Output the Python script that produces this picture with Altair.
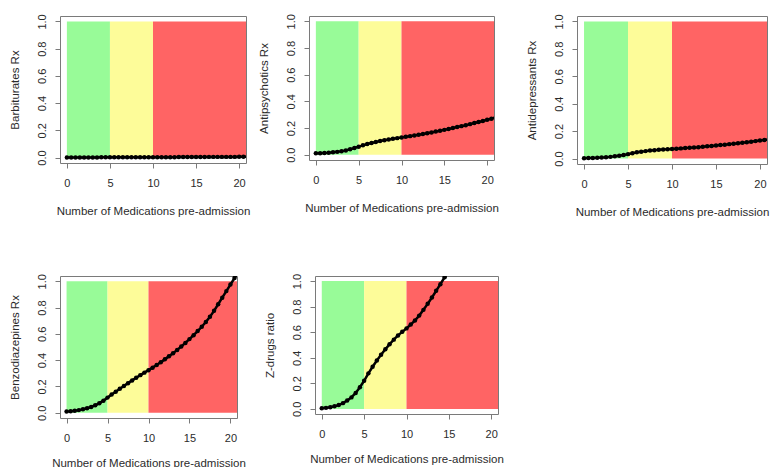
import altair as alt
import pandas as pd

# Number of medications taken before admission (curve evaluation points)
doses = [0, 0.5, 1, 1.5, 2, 2.5, 3, 3.5, 4, 4.5, 5, 5.5, 6, 6.5, 7, 7.5, 8, 8.5,
         9, 9.5, 10, 10.5, 11, 11.5, 12, 12.5, 13, 13.5, 14, 14.5, 15, 15.5, 16,
         16.5, 17, 17.5, 18, 18.5, 19, 19.5, 20, 20.5, 21]

barbiturates = [0.001, 0.001, 0.001, 0.001, 0.001, 0.001, 0.001, 0.001,
                0.002, 0.002, 0.002, 0.002, 0.002, 0.002, 0.002, 0.002, 0.002,
                0.003, 0.003, 0.003, 0.003, 0.003, 0.003, 0.003, 0.003, 0.003,
                0.004, 0.004, 0.004, 0.004, 0.004, 0.004, 0.004,
                0.005, 0.005, 0.005, 0.005, 0.005, 0.005, 0.005,
                0.006, 0.006, 0.006]

antipsychotics = [0.010, 0.011, 0.013, 0.015, 0.018, 0.021, 0.026, 0.032, 0.040, 0.050,
                  0.060, 0.070, 0.080, 0.088, 0.095, 0.102, 0.108, 0.114, 0.119, 0.124,
                  0.129, 0.134, 0.139, 0.144, 0.150, 0.155, 0.161, 0.167, 0.173, 0.180,
                  0.186, 0.193, 0.200, 0.207, 0.214, 0.221, 0.229, 0.237, 0.245, 0.253,
                  0.262, 0.270, 0.278]

antidepressants = [0.002, 0.003, 0.004, 0.005, 0.007, 0.009, 0.012, 0.016, 0.021, 0.026,
                   0.032, 0.039, 0.045, 0.050, 0.054, 0.058, 0.061, 0.064, 0.066, 0.068,
                   0.070, 0.072, 0.074, 0.076, 0.078, 0.081, 0.083, 0.086, 0.089, 0.092,
                   0.095, 0.098, 0.101, 0.105, 0.108, 0.112, 0.115, 0.119, 0.123, 0.127,
                   0.131, 0.135, 0.139]

benzodiazepines = [0.010, 0.012, 0.015, 0.020, 0.026, 0.034, 0.044, 0.057, 0.073, 0.092,
                   0.115, 0.138, 0.160, 0.182, 0.204, 0.225, 0.246, 0.266, 0.286, 0.305,
                   0.324, 0.343, 0.363, 0.384, 0.406, 0.429, 0.453, 0.478, 0.504, 0.531,
                   0.560, 0.590, 0.621, 0.654, 0.690, 0.730, 0.775, 0.825, 0.875, 0.925,
                   0.975, 1.025, 1.075]

z_drugs = [0.005, 0.008, 0.013, 0.020, 0.030, 0.045, 0.065, 0.090, 0.125, 0.170,
           0.220, 0.278, 0.330, 0.378, 0.423, 0.466, 0.506, 0.542, 0.575, 0.603,
           0.630, 0.660, 0.692, 0.730, 0.775, 0.822, 0.872, 0.924, 0.976, 1.030,
           1.085]

# Risk zones by medication count
zone_name = ["low", "medium", "high"]
zone_start = [0, 5, 10]
zone_end = [5, 10, 21]
zone_color = ["#98FB98", "#FDFC99", "#FF6464"]

x_ticks = [0, 5, 10, 15, 20]
y_ticks = [0.0, 0.2, 0.4, 0.6, 0.8, 1.0]

FONT = "Liberation Sans"
FRAME = "#7a7a7a"
X_TITLE = "Number of Medications pre-admission"


def panel(series, label, w, h, x_title_pad=15):
    curve = pd.DataFrame({"meds": doses[:len(series)], "ratio": series})
    zones = pd.DataFrame({"start": zone_start, "end": zone_end, "zone": zone_name})

    x_scale = alt.Scale(domain=[-0.8, 20.8], nice=False, zero=False)
    y_scale = alt.Scale(domain=[-0.04, 1.04], nice=False, zero=False)
    x_axis = alt.Axis(title=X_TITLE, values=x_ticks, grid=False, domain=False,
                      tickSize=5, labelPadding=9, labelFlush=False,
                      labelOverlap=False, titlePadding=x_title_pad,
                      minExtent=27, maxExtent=27)
    y_axis = alt.Axis(title=label, values=y_ticks, format=".1f", grid=False,
                      domain=False, tickSize=5, labelAngle=270,
                      labelAlign="center", labelBaseline="alphabetic",
                      labelPadding=10, labelFlush=False, labelOverlap=False,
                      labelBound=False, titlePadding=12,
                      minExtent=28, maxExtent=28)

    bands = alt.Chart(zones).mark_rect(clip=True).encode(
        x=alt.X("start:Q", scale=x_scale, axis=x_axis),
        x2="end:Q",
        y=alt.YDatum(0, type="quantitative", scale=y_scale, axis=y_axis),
        y2=alt.Y2Datum(1),
        color=alt.Color("zone:N",
                        scale=alt.Scale(domain=zone_name, range=zone_color),
                        legend=None),
    )
    base = alt.Chart(curve).encode(
        x=alt.X("meds:Q", scale=x_scale, axis=x_axis),
        y=alt.Y("ratio:Q", scale=y_scale, axis=y_axis),
    )
    line = base.mark_line(color="black", strokeWidth=2.5, clip=True)
    dots = base.mark_circle(color="black", size=20, opacity=1, clip=True)
    return alt.layer(bands, line, dots).properties(width=w, height=h)


p1 = panel(barbiturates, "Barbiturates Rx", 186, 147)
p2 = panel(antipsychotics, "Antipsychotics Rx", 185, 144)
p3 = panel(antidepressants, "Antidepressants Rx", 190, 148)
p4 = panel(benzodiazepines, "Benzodiazepines Rx", 177, 142, x_title_pad=12)
p5 = panel(z_drugs, "Z-drugs ratio", 183, 138, x_title_pad=12)

top_row = alt.hconcat(p1, alt.hconcat(p2, p3, spacing=26), spacing=6)
bottom_row = alt.hconcat(p4, p5, spacing=17)

chart = alt.vconcat(top_row, bottom_row, spacing=54).properties(
    padding={"left": 8, "top": 13, "right": 0, "bottom": 0}
).configure_view(
    stroke=FRAME, strokeWidth=1
).configure_axis(
    labelFont=FONT, titleFont=FONT, labelFontSize=11, titleFontSize=11.5,
    labelColor="#2b2b2b", titleColor="#2b2b2b", titleFontWeight="normal",
    tickColor=FRAME, tickWidth=1, labelOverlap=False
).configure_concat(spacing=0)

chart.save("out.html", embed_options={"renderer": "svg", "actions": False})
